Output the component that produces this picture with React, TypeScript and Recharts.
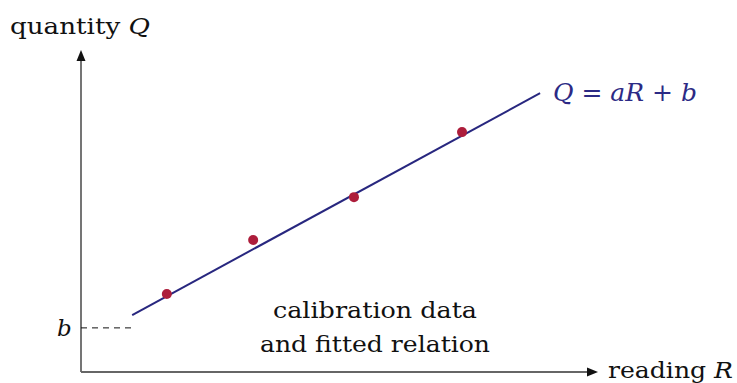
import { ComposedChart, XAxis, YAxis, Line, Scatter, ReferenceLine } from "recharts";

// calibration readings (R) and measured quantities (Q), in axis units
const readingR = [1.66, 3.33, 5.28, 7.37];
const quantityQ = [2.42, 4.1, 5.43, 7.45];

// fitted relation Q = aR + b, drawn between these readings
const fitR = [0.99, 8.88];
const fitQ = [1.77, 8.66];

// intercept marker b
const interceptQ = 1.37;
const interceptEndR = 0.97;

const axisDomain = [0, 10];

const calibration = readingR.map((r, i) => ({ R: r, Q: quantityQ[i] }));
const fitted = fitR.map((r, i) => ({ R: r, Q: fitQ[i] }));

const serif = "'DejaVu Serif', 'Liberation Serif', serif";

// axis line with a filled arrowhead at its far end
const ArrowAxis = (props: any) => {
    const { x1, y1, x2, y2 } = props;
    const dx = x2 - x1;
    const dy = y2 - y1;
    const len = Math.sqrt(dx * dx + dy * dy) || 1;
    const ux = dx / len;
    const uy = dy / len;
    const head = 11;
    const half = 4.5;
    const bx = x2 - ux * head;
    const by = y2 - uy * head;
    const pts = `${x2},${y2} ${bx - uy * half},${by + ux * half} ${bx + uy * half},${by - ux * half}`;
    return (
        <g>
            <line x1={x1} y1={y1} x2={bx + ux * 2} y2={by + uy * 2} stroke="#666" strokeWidth={1.8} />
            <polygon points={pts} fill="#111" />
        </g>
    );
};

export default function App() {
    return (
        <div style={{ position: "absolute", left: 0, top: 0, width: 737, height: 383, background: "#fff" }}>
            <ComposedChart
                width={737}
                height={383}
                margin={{ top: 50, right: 139, bottom: 11, left: 81 }}
            >
                <XAxis dataKey="R" type="number" domain={axisDomain} hide />
                <YAxis dataKey="Q" type="number" domain={axisDomain} hide />
                <ReferenceLine
                    segment={[{ x: 0, y: 0 }, { x: 10, y: 0 }]}
                    shape={ArrowAxis}
                    ifOverflow="visible"
                />
                <ReferenceLine
                    segment={[{ x: 0, y: 0 }, { x: 0, y: 10 }]}
                    shape={ArrowAxis}
                    ifOverflow="visible"
                />
                <ReferenceLine
                    segment={[{ x: 0, y: interceptQ }, { x: interceptEndR, y: interceptQ }]}
                    stroke="#111"
                    strokeWidth={1}
                    strokeDasharray="6 5"
                />
                <Line
                    data={fitted}
                    dataKey="Q"
                    stroke="#28277f"
                    strokeWidth={2}
                    dot={false}
                    isAnimationActive={false}
                />
                <Scatter
                    data={calibration}
                    dataKey="Q"
                    fill="#ad1d3b"
                    shape={(p: any) => <circle cx={p.cx} cy={p.cy} r={5} fill="#ad1d3b" />}
                    isAnimationActive={false}
                />
            </ComposedChart>
            <svg
                width={737}
                height={383}
                style={{ position: "absolute", left: 0, top: 0, pointerEvents: "none" }}
                fontFamily={serif}
            >
                <text x={10} y={34} fontSize={22} fill="#111" textLength={140} lengthAdjust="spacingAndGlyphs">
                    quantity <tspan fontStyle="italic">Q</tspan>
                </text>
                <text x={608} y={378} fontSize={22} fill="#111" textLength={125} lengthAdjust="spacingAndGlyphs">
                    reading <tspan fontStyle="italic">R</tspan>
                </text>
                <text x={57} y={336} fontSize={23} fontStyle="italic" fill="#111">
                    b
                </text>
                <text x={553} y={101} fontSize={24} fill="#2c2a85" textLength={144} lengthAdjust="spacingAndGlyphs">
                    <tspan fontStyle="italic">Q</tspan> = <tspan fontStyle="italic">aR</tspan> + <tspan fontStyle="italic">b</tspan>
                </text>
                <text x={375} y={318} fontSize={22} textAnchor="middle" fill="#111" textLength={204} lengthAdjust="spacingAndGlyphs">
                    calibration data
                </text>
                <text x={375} y={352} fontSize={22} textAnchor="middle" fill="#111" textLength={230} lengthAdjust="spacingAndGlyphs">
                    and fitted relation
                </text>
            </svg>
        </div>
    );
}
